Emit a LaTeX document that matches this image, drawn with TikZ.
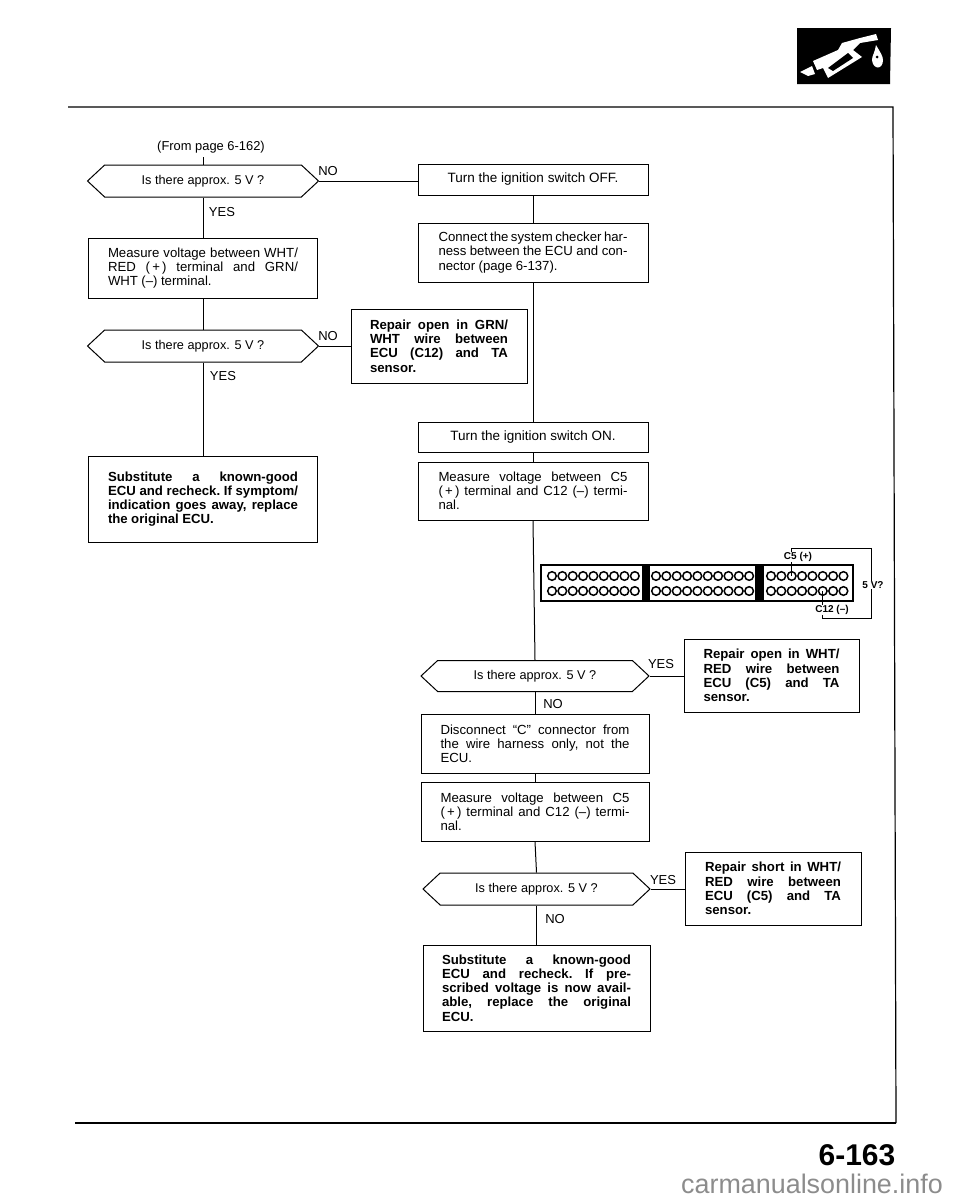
\documentclass[tikz,border=0pt]{standalone}
\usepackage{fontspec}
\setmainfont{Liberation Sans}
\usetikzlibrary{shapes.symbols}

% word spaces of the box texts
\newcommand{\boxspaces}{\frenchspacing\spaceskip=0.26em plus 3em minus 0.08em\relax}
\newcommand{\tight}{\spaceskip=0.14em plus 1fil\relax}

\tikzset{
	flowbox/.style={draw,line width=1pt,inner sep=0pt,align=justify,font=\fontsize{13.2}{14.2}\selectfont\boxspaces},
	repairbox/.style={flowbox,font=\fontsize{13.2}{14.2}\selectfont\bfseries\boxspaces},
	switchbox/.style={draw,line width=1pt,inner sep=0pt,align=center,font=\fontsize{13.5}{14.2}\selectfont},
	question/.style={draw,line width=1pt,inner sep=0pt,shape=signal,signal to=west and east,signal from=nowhere,
		signal pointer angle=86,font=\fontsize{12.7}{14}\selectfont},
	answer/.style={font=\fontsize{13}{14}\selectfont,inner sep=0pt},
	hole/.style={draw,circle,line width=1.5pt,minimum size=8.6pt,inner sep=0pt},
	small/.style={font=\fontsize{10}{11}\selectfont\bfseries,inner sep=0.5pt,fill=white},
}

\begin{document}
\begin{tikzpicture}[x=1pt,y=-1pt,line width=1pt]

\useasboundingbox (0,0) rectangle (960,1200);

% page frame
\draw[line width=1.2pt] (68,107)--(893,107)--(896,1123);
\draw[line width=1.8pt] (896,1123)--(75,1123);

% pump icon
\fill (797,28)--(891,28)--(890,84)--(797,84)--cycle;
\fill[white] (813,61)--(838,50)--(842,43)--(860,38)--(876,34)--(878,40)--(860,43)--(853,50)--(862,57)--(828,78)--(823,68)--(817,70)--cycle;
\fill (828,68)--(848,53)--(853,58)--(833,71)--cycle;
\fill[white] (800,72)--(812,66)--(815,74)--(808,76)--cycle;
\fill[white] (876,45) .. controls (880,52) and (883,56) .. (883,60) .. controls (883,70) and (873,70) .. (872,60) .. controls (872,56) and (875,52) .. (876,45)--cycle;
\fill (877,57) circle[radius=1.5];

\node[anchor=center,inner sep=0pt,font=\fontsize{12.9}{14}\selectfont] (from) at (211,147) {(From page 6-162)};
\coordinate (fromend) at (203,157);

% left column
\node[question,minimum width=231pt,minimum height=32pt] (ask1) at (203,181) {Is there approx. 5 V ?};
\node[flowbox,minimum width=229pt,minimum height=60pt,text width=190pt] (measure1) at (203,268)
	{Measure voltage between WHT/\linebreak RED (\,+\,) terminal and GRN/\linebreak WHT (--) terminal.};
\node[question,minimum width=231pt,minimum height=32pt] (ask2) at (203,346) {Is there approx. 5 V ?};
\node[repairbox,minimum width=229pt,minimum height=86pt,text width=190pt] (subst1) at (203,499)
	{Substitute a known-good\linebreak {\tight ECU and recheck. If symptom/}\linebreak {\tight indication goes away, replace}\linebreak the original ECU.\par\vspace{16pt}};

% right column
\node[switchbox,minimum width=230pt,minimum height=31pt] (off) at (533,179.5) {Turn the ignition switch OFF.};
\node[flowbox,minimum width=230pt,minimum height=59pt,text width=189pt] (connect) at (533,252.5)
	{Connect the system checker har-\linebreak ness between the ECU and con-\linebreak nector (page 6-137).};
\node[repairbox,minimum width=176pt,minimum height=74pt,text width=138pt] (repair1) at (439,346)
	{Repair open in GRN/\linebreak WHT wire between\linebreak ECU (C12) and TA\linebreak sensor.};
\node[switchbox,minimum width=230pt,minimum height=30pt] (on) at (533,437) {Turn the ignition switch ON.};
\node[flowbox,minimum width=230pt,minimum height=58pt,text width=189pt] (measure2) at (533,491)
	{Measure voltage between C5\linebreak (\,+\,) terminal and C12 (--) termi-\linebreak nal.};

\node[question,minimum width=228pt,minimum height=31pt] (ask3) at (535,676) {Is there approx. 5 V ?};
\node[repairbox,minimum width=175pt,minimum height=73pt,text width=136pt] (repair2) at (771.5,675.5)
	{{\tight Repair open in WHT/}\linebreak RED wire between\linebreak ECU (C5) and TA\linebreak sensor.};
\node[flowbox,minimum width=228pt,minimum height=59pt,text width=189pt] (disconnect) at (535,743.5)
	{Disconnect ``C'' connector from\linebreak the wire harness only, not the\linebreak ECU.};
\node[flowbox,minimum width=228pt,minimum height=59pt,text width=189pt] (measure3) at (535,811.5)
	{Measure voltage between C5\linebreak (\,+\,) terminal and C12 (--) termi-\linebreak nal.};
\node[question,minimum width=227pt,minimum height=32pt] (ask4) at (536.5,889) {Is there approx. 5 V ?};
\node[repairbox,minimum width=176pt,minimum height=73pt,text width=136pt] (repair3) at (773,888.5)
	{{\tight Repair short in WHT/}\linebreak RED wire between\linebreak ECU (C5) and TA\linebreak sensor.};
\node[repairbox,minimum width=227pt,minimum height=86pt,text width=189pt] (subst2) at (536.5,988)
	{Substitute a known-good\linebreak ECU and recheck. If pre-\linebreak scribed voltage is now avail-\linebreak able, replace the original\linebreak ECU.};

% connectors
\draw (fromend)--(ask1.north);
\draw (ask1.south)--(measure1.north);
\draw (measure1.south)--(ask2.north);
\draw (ask2.south)--(subst1.north);
\draw (ask1.east)--(ask1.east-|off.west);
\draw (ask2.east)--(ask2.east-|repair1.west);
\draw (off.south)--(connect.north);
\draw (connect.south)--(on.north);
\draw (on.south)--(measure2.north);
\draw (measure2.south)--(ask3.north);
\draw (ask3.south)--(disconnect.north);
\draw (disconnect.south)--(measure3.north);
\draw (measure3.south)--(ask4.north);
\draw (ask4.south)--(subst2.north);
\draw (ask3.east)--(ask3.east-|repair2.west);
\draw (ask4.east)--(ask4.east-|repair3.west);

\node[answer] (no1) at (328,171) {NO};
\node[answer] (yes1) at (222,212) {YES};
\node[answer] (no2) at (328,336) {NO};
\node[answer] (yes2) at (223,376) {YES};
\node[answer] (yes3) at (661,664) {YES};
\node[answer] (no3) at (553,704) {NO};
\node[answer] (yes4) at (663,880) {YES};
\node[answer] (no4) at (555,919) {NO};

% connector face
\draw[line width=2pt] (541,565) rectangle (853,601);
\fill (642,565) rectangle (650,601);
\fill (755,565) rectangle (764,601);

\foreach \i in {0,...,8}{
	\node[hole] (a\i) at ({552+10.35*\i},576) {};
	\node[hole] (b\i) at ({552+10.35*\i},591) {};
}
\foreach \i in {0,...,9}{
	\node[hole] (c\i) at ({656+10.35*\i},576) {};
	\node[hole] (d\i) at ({656+10.35*\i},591) {};
}
\foreach \i in {0,...,7}{
	\node[hole] (e\i) at ({771+10.35*\i},576) {};
	\node[hole] (f\i) at ({771+10.35*\i},591) {};
}

\coordinate (wiretop) at (871,548);
\coordinate (wirebottom) at (871,618);
\draw[line width=1pt] (e2.center)--(e2.center|-wiretop)--(wiretop)--(wirebottom)--(f5.center|-wirebottom)--(f5.center);
\node[small] (cfive) at (798,557) {C5 (+)};
\node[small] (ctwelve) at (832,610) {C12 (--)};
\node[small] (volt) at (873,585) {5 V?};

\node[inner sep=0pt,font=\fontsize{30}{30}\selectfont\bfseries] (page) at (857,1155) {6-163};
\node[inner sep=0pt,text=black!45,font=\fontsize{26.9}{28}\selectfont] (site) at (812,1184) {carmanualsonline.info};

\end{tikzpicture}
\end{document}
